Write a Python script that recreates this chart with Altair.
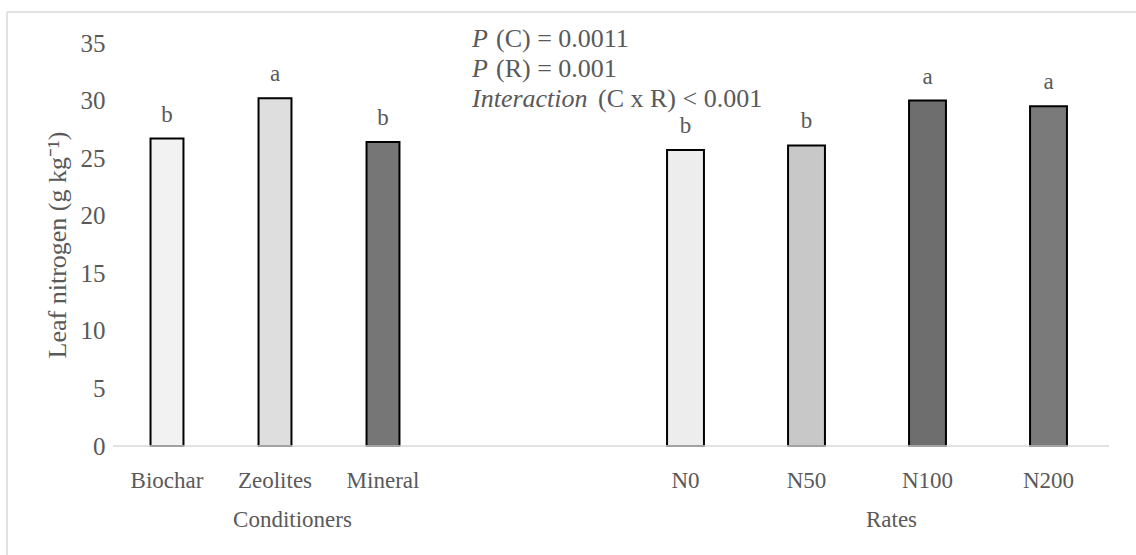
import altair as alt
import pandas as pd

# Leaf nitrogen by soil conditioner and by nitrogen rate
conditioners = ["Biochar", "Zeolites", "Mineral"]
conditioner_n = [26.7, 30.2, 26.4]
conditioner_letters = ["b", "a", "b"]

rates = ["N0", "N50", "N100", "N200"]
rate_n = [25.7, 26.1, 30.0, 29.5]
rate_letters = ["b", "b", "a", "a"]

y_ticks = [0, 5, 10, 15, 20, 25, 30, 35]

# grey tones standing in for the dotted / hatched bar textures
conditioner_fills = ["#f2f2f2", "#dedede", "#767676"]
rate_fills = ["#ededed", "#c8c8c8", "#6e6e6e", "#7a7a7a"]

FONT = "Liberation Serif"
TEXT = "#595959"
LINE = "#d9d9d9"
W, H = 996, 403

y_axis = alt.Axis(
    values=y_ticks,
    title="Leaf nitrogen (g kg\u207b\u00b9)",
    titleX=-56,
    titleBaseline="middle",
    titleFont=FONT,
    titleFontSize=26,
    titleFontWeight="normal",
    titleColor=TEXT,
    labelFont=FONT,
    labelFontSize=25,
    labelColor=TEXT,
    labelPadding=8,
    ticks=False,
    tickSize=0,
    domain=False,
    grid=False,
)


def group(cats, vals, letters, fills, title, rng, title_x):
    df = pd.DataFrame({"cat": cats, "value": vals, "letter": letters})
    base = alt.Chart(df).encode(
        x=alt.X(
            "cat:N",
            sort=cats,
            scale=alt.Scale(range=rng, paddingInner=0.695, paddingOuter=0.3475),
            axis=alt.Axis(
                orient="bottom",
                title=title,
                titleX=title_x,
                titleY=80,
                titleBaseline="alphabetic",
                titleFont=FONT,
                titleFontSize=23,
                titleFontWeight="normal",
                titleColor=TEXT,
                labelFont=FONT,
                labelFontSize=23,
                labelColor=TEXT,
                labelAngle=0,
                labelBaseline="alphabetic",
                labelPadding=41,
                ticks=False,
                tickSize=0,
                domain=False,
                grid=False,
            ),
        ),
        y=alt.Y("value:Q", scale=alt.Scale(domain=[0, 35], nice=False), axis=y_axis),
    )
    bars = base.mark_bar(stroke="black", strokeWidth=2).encode(
        color=alt.Color("cat:N", scale=alt.Scale(domain=cats, range=fills), legend=None)
    )
    letters_layer = base.mark_text(
        baseline="alphabetic", dy=-17, font=FONT, fontSize=23, color=TEXT
    ).encode(text="letter:N")
    return alt.layer(bars, letters_layer)


left = group(conditioners, conditioner_n, conditioner_letters, conditioner_fills,
             "Conditioners", [0, 324], 179)
right = group(rates, rate_n, rate_letters, rate_fills, "Rates", [512, 996], 778)

one = alt.Data(values=[{}])

baseline = alt.Chart(one).mark_rule(color=LINE, strokeWidth=1.5).encode(
    x=alt.value(0), x2=alt.value(W), y=alt.value(H)
)
border_top = alt.Chart(one).mark_rule(color=LINE, strokeWidth=1.5).encode(
    x=alt.value(-106), x2=alt.value(1030), y=alt.value(-31)
)
border_left = alt.Chart(one).mark_rule(color=LINE, strokeWidth=1.5).encode(
    x=alt.value(-106), y=alt.value(-31), y2=alt.value(520)
)


def note(text, x, y, italic=False):
    return alt.Chart(one).mark_text(
        text=text, align="left", baseline="alphabetic", font=FONT, fontSize=26,
        color=TEXT, fontStyle="italic" if italic else "normal",
    ).encode(x=alt.value(x), y=alt.value(y))


notes = [
    note("P", 359, 4, True),
    note("(C) = 0.0011", 383, 4),
    note("P", 359, 34, True),
    note("(R) = 0.001", 383, 34),
    note("Interaction", 359, 64, True),
    note("(C x R) < 0.001", 485, 64),
]

chart = (
    alt.layer(left, right, baseline, border_top, border_left, *notes)
    .resolve_scale(x="independent", color="independent")
    .resolve_axis(x="independent")
    .properties(
        width=W,
        height=H,
        autosize=alt.AutoSizeParams(type="none"),
        padding={"left": 113, "top": 43, "right": 27, "bottom": 109},
        background="white",
    )
    .configure_view(stroke=None)
)

chart.save("out.html", embed_options={"renderer": "svg", "actions": False})
